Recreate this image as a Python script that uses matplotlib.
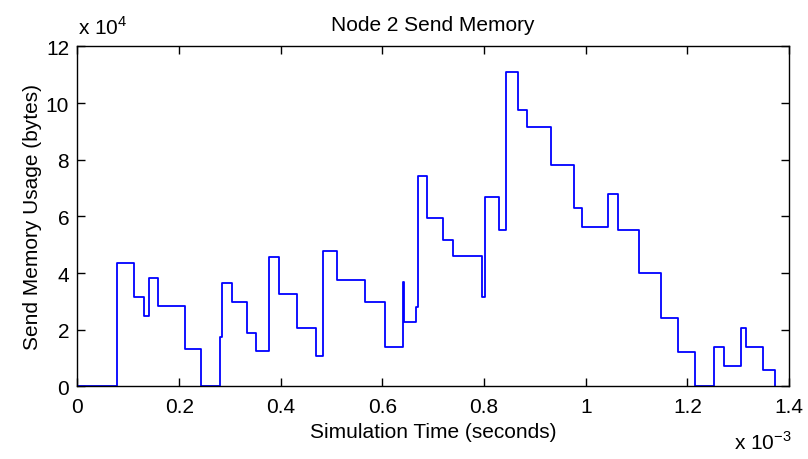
import matplotlib
matplotlib.use("Agg")
import matplotlib.pyplot as plt
from matplotlib.ticker import FuncFormatter

# step change points (ms) and memory after each change (x 1e4 bytes)
t_ms = [0.0, 0.077, 0.111, 0.131, 0.141, 0.159, 0.211, 0.244, 0.280, 0.284,
        0.304, 0.334, 0.351, 0.376, 0.397, 0.431, 0.470, 0.483, 0.510, 0.565,
        0.606, 0.641, 0.643, 0.666, 0.670, 0.687, 0.719, 0.738, 0.796, 0.801,
        0.830, 0.843, 0.867, 0.884, 0.932, 0.976, 0.993, 1.044, 1.063, 1.105,
        1.149, 1.182, 1.216, 1.253, 1.273, 1.306, 1.315, 1.349, 1.372]
mem_1e4 = [0, 4.35, 3.14, 2.47, 3.81, 2.85, 1.32, 0, 1.73, 3.63,
           2.96, 1.87, 1.26, 4.55, 3.26, 2.05, 1.08, 4.79, 3.76, 2.96,
           1.38, 3.69, 2.28, 2.79, 7.41, 5.94, 5.15, 4.59, 3.14, 6.67,
           5.51, 11.1, 9.76, 9.16, 7.81, 6.29, 5.63, 6.79, 5.51, 3.99,
           2.42, 1.20, 0, 1.38, 0.71, 2.05, 1.38, 0.59, 0]

time_s = [v * 1e-3 for v in t_ms]
mem_bytes = [v * 1e4 for v in mem_1e4]

plt.rcParams['font.family'] = ['Liberation Sans', 'DejaVu Sans']
plt.rcParams['mathtext.fontset'] = 'custom'
plt.rcParams['mathtext.rm'] = 'Liberation Sans'

fs = 15

fig = plt.figure(figsize=(8.08, 4.60), dpi=100)
ax = fig.add_axes([0.0959, 0.158, 0.8806, 0.739])

ax.step(time_s, mem_bytes, where='post', color='#0000ff', linewidth=1.3)

ax.set_xlim(0, 1.4e-3)
ax.set_ylim(0, 12e4)
ax.set_xticks([i * 0.2e-3 for i in range(8)])
ax.set_yticks([i * 2e4 for i in range(7)])
ax.xaxis.set_major_formatter(FuncFormatter(lambda v, p: '%g' % round(v * 1e3, 6)))
ax.yaxis.set_major_formatter(FuncFormatter(lambda v, p: '%g' % round(v / 1e4, 6)))

ax.tick_params(direction='in', top=True, right=True, length=5.5, width=1,
               labelsize=fs)
ax.tick_params(axis='y', pad=6)
ax.tick_params(axis='x', pad=8)
for s in ax.spines.values():
    s.set_linewidth(1)

ax.set_title('Node 2 Send Memory', fontsize=fs, pad=12)
ax.set_xlabel('Simulation Time (seconds)', fontsize=fs, labelpad=4)
ax.set_ylabel('Send Memory Usage (bytes)', fontsize=fs, labelpad=3)

fig.text(0.097, 0.925, r'x 10$^{4}$', fontsize=fs)
fig.text(0.908, 0.022, r'x 10$^{\mathrm{-3}}$', fontsize=fs)

fig.savefig('out.png', dpi=100)
